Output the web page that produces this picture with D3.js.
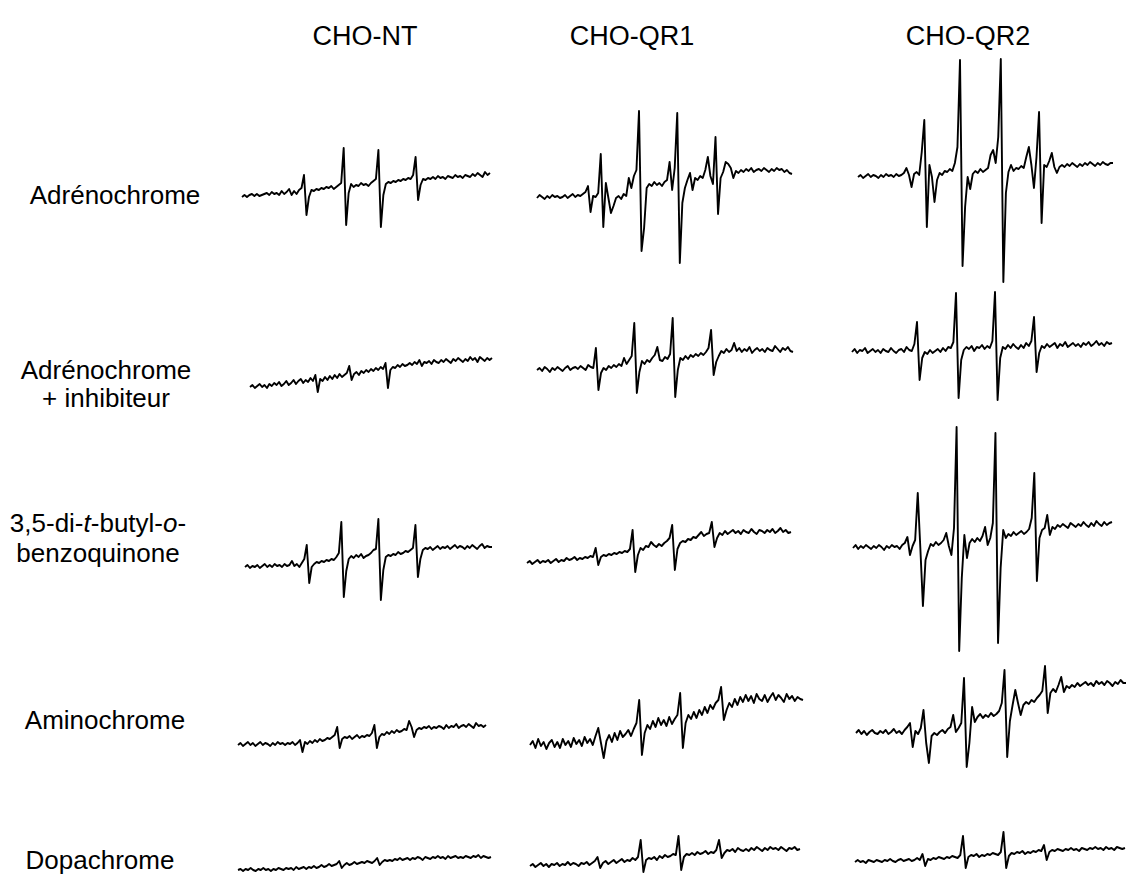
<!DOCTYPE html>
<html>
<head>
<meta charset="utf-8">
<script src="https://cdn.jsdelivr.net/npm/d3@7"></script>
<style>
  html, body { margin: 0; padding: 0; background: #fff; }
  svg { display: block; }
  text { font-family: "Liberation Sans", Arial, sans-serif; fill: #000; }
</style>
</head>
<body>
<svg id="chart" width="1129" height="890"></svg>
<script>
// Cell lines (columns) and substrates (rows)
const columns = ["CHO-NT", "CHO-QR1", "CHO-QR2"];
const rowLabels = [
  ["Adrénochrome"],
  ["Adrénochrome", "+ inhibiteur"],
  ["3,5-di-<i>t</i>-butyl-<i>o</i>-", "benzoquinone"],
  ["Aminochrome"],
  ["Dopachrome"]
];

// EPR signal amplitude (a.u.) sampled at 101 equally spaced field points per spectrum
const adrNT = [
  0, 2, 0, 2, 3, 1, 3, 1, 2, 3,
  4, 2, 5, 3, 4, 2, 6, 3, 5, 8,
  2, 6, 3, 7, 9, 22, -18, 0, 7, 6,
  8, 7, 9, 8, 10, 9, 11, 8, 10, 12,
  14, 49, -28, 4, 13, 10, 12, 11, 14, 12,
  13, 11, 14, 16, 18, 47, -30, 2, 13, 15,
  14, 16, 15, 17, 16, 18, 17, 19, 18, 22,
  40, -3, 12, 18, 17, 19, 18, 20, 18, 21,
  19, 20, 18, 21, 20, 19, 22, 20, 21, 19,
  22, 21, 20, 23, 21, 24, 22, 20, 25, 22,
  24
];
const adrQR1 = [
  0, 3, 1, -1, 2, 0, 3, 1, 2, 0,
  1, 3, 0, 2, 4, 1, 3, 2, 4, 6,
  12, -14, 2, 1, 5, 44, -29, 15, 0, -15,
  -8, 0, 2, -1, 4, 2, 20, 10, 22, 28,
  87, -53, -30, 10, 14, 12, 16, 13, 15, 12,
  16, 18, 36, 8, 30, 85, -65, -5, 10, 18,
  25, 8, 20, 18, 22, 20, 28, 41, 22, 14,
  61, -16, 20, 26, 36, 34, 30, 20, 27, 25,
  28, 26, 29, 27, 30, 26, 28, 29, 27, 30,
  28, 26, 29, 27, 30, 28, 29, 26, 28, 25,
  24
];
const adrQR2 = [
  0, 2, -1, 1, 3, 0, 2, 1, -1, 2,
  0, 3, 1, 2, 0, 3, 1, 2, 4, 9,
  2, -10, 3, 5, 2, 25, 57, -50, 12, 0,
  -25, -3, 4, 2, 6, 5, 8, 6, 14, 30,
  117, -89, -30, 0, -12, 3, 6, 4, 8, 5,
  7, 9, 22, 27, 14, 40, 118, -105, -16, 5,
  12, 6, 9, 8, 11, 9, 20, 30, 12, -11,
  20, 65, -46, 12, 10, 16, 24, 10, 4, 10,
  12, 10, 13, 11, 14, 12, 10, 13, 11, 14,
  12, 15, 13, 11, 14, 12, 15, 13, 12, 14,
  14
];

const adrInhNT = [
  0, 2, -1, 1, 3, 0, 2, -1, 3, 1,
  4, 2, 5, 1, 3, 6, 2, 4, 7, 3,
  6, 8, 4, 7, 5, 9, 6, 12, -5, 8,
  6, 10, 7, 11, 8, 12, 9, 13, 10, 12,
  14, 21, 7, 13, 15, 12, 16, 14, 17, 15,
  18, 16, 19, 17, 20, 18, 24, -1, 17, 20,
  19, 22, 20, 23, 21, 22, 24, 22, 25, 23,
  27, 21, 25, 24, 26, 23, 27, 25, 24, 27,
  25, 28, 26, 24, 28, 26, 29, 27, 25, 28,
  26, 30, 27, 29, 25, 30, 28, 26, 29, 27,
  29
];
const adrInhQR1 = [
  0, 2, -1, 3, 1, -2, 2, 0, 3, 1,
  -1, 2, 4, 0, 2, 3, 1, 4, 2, 0,
  5, 3, 2, 22, -20, -3, 2, 0, 4, 2,
  5, 3, 6, 4, 12, 6, 10, 14, 47, -23,
  -2, 9, 6, 10, 8, 12, 15, 23, 10, 9,
  13, 11, 16, 52, -27, 0, 12, 10, 14, 11,
  15, 13, 16, 14, 17, 15, 18, 22, 40, -5,
  8, 14, 19, 17, 21, 18, 20, 27, 19, 22,
  18, 21, 19, 23, 17, 20, 22, 19, 21, 18,
  22, 20, 19, 24, 21, 18, 22, 20, 23, 19,
  18
];
const adrInhQR2 = [
  -2, 1, -3, 0, -1, 2, -3, -1, 1, -2,
  0, -3, 1, -1, -2, 2, -1, -3, 0, 1,
  -2, 3, 0, -1, 6, 28, -30, -8, -2, -4,
  0, -3, -1, 1, -2, 2, -1, 3, 2, 8,
  57, -48, -10, 0, 3, 1, 4, -1, 3, 2,
  5, 1, 4, 2, 9, 58, -50, -8, 3, 1,
  5, 2, 6, 3, 1, 5, 2, 7, 4, 9,
  33, -22, -3, 4, 2, 6, 3, 5, 7, 2,
  6, 4, 8, 3, 5, 7, 4, 6, 3, 7,
  5, 8, 4, 6, 9, 5, 7, 4, 8, 6,
  7
];

const dtbqNT = [
  0, 2, -1, 1, 0, 2, -1, 1, 3, 0,
  2, 0, 3, 1, 2, 0, 3, 1, 2, 6,
  1, 3, 0, 4, 8, 22, -16, 0, 3, 5,
  4, 6, 5, 7, 6, 8, 7, 10, 14, 45,
  -30, -4, 8, 11, 9, 12, 10, 13, 9, 11,
  12, 14, 17, 18, 48, -33, -3, 10, 12, 11,
  13, 12, 15, 13, 14, 16, 15, 17, 19, 42,
  -10, 8, 17, 19, 18, 20, 17, 19, 21, 18,
  20, 19, 21, 18, 20, 22, 19, 21, 20, 18,
  21, 19, 22, 20, 18, 21, 23, 19, 21, 20,
  20
];
const dtbqQR1 = [
  0, 2, -1, 1, 3, 0, 2, 1, 3, 0,
  2, 4, 1, 3, 2, 5, 3, 4, 6, 3,
  5, 4, 6, 5, 7, 6, 15, -2, 6, 8,
  7, 9, 8, 10, 9, 11, 10, 12, 11, 14,
  33, -9, 8, 15, 13, 17, 16, 21, 18, 16,
  19, 17, 20, 22, 25, 38, -7, 14, 20, 22,
  21, 24, 23, 26, 25, 28, 31, 27, 29, 30,
  41, 16, 25, 30, 28, 32, 29, 31, 33, 30,
  32, 29, 33, 31, 30, 34, 31, 29, 33, 32,
  30, 33, 31, 34, 30, 32, 35, 31, 33, 30,
  31
];
const dtbqQR2 = [
  0, 3, -1, 2, 0, 3, 1, -1, 2, 0,
  3, 1, -2, 2, 0, 3, 1, 2, -1, 3,
  5, 11, -7, 2, 8, 55, 0, -58, -12, -3,
  4, 2, 6, 3, 5, 8, 15, 2, -7, 20,
  121, -103, -30, 13, -10, 5, 9, 6, 10, 7,
  12, 21, 3, 10, 25, 115, -95, -20, 18, 10,
  14, 12, 16, 13, 15, 17, 14, 16, 19, 30,
  75, -33, 10, 18, 20, 33, 13, 21, 19, 23,
  21, 24, 22, 20, 25, 23, 21, 24, 22, 26,
  23, 21, 25, 22, 27, 24, 22, 26, 23, 25,
  26
];

const aminoNT = [
  0, 2, -1, 1, 3, 0, 2, -1, 1, 3,
  0, 2, 1, -1, 2, 0, 3, 1, 2, 0,
  2, 1, 3, 0, 2, 5, -7, 3, 1, 4,
  2, 5, 3, 6, 4, 5, 7, 6, 8, 10,
  18, -3, 6, 8, 7, 9, 6, 8, 10, 7,
  9, 8, 10, 9, 12, 20, -3, 8, 11, 10,
  13, 11, 14, 12, 15, 13, 14, 16, 15, 24,
  18, 8, 15, 17, 16, 18, 17, 19, 16, 18,
  17, 19, 18, 16, 20, 17, 19, 18, 21, 17,
  19, 20, 18, 21, 19, 17, 22, 19, 20, 18,
  20
];
const aminoQR1 = [
  0, 4, -3, 6, -1, 3, -4, 2, 5, -2,
  3, -3, 6, 0, 4, -2, 7, 1, 5, -1,
  8, 2, 6, 0, 9, 17, 2, -13, 4, 10,
  3, 12, 5, 14, 8, 11, 15, 9, 16, 22,
  45, -10, 12, 20, 16, 24, 18, 27, 20, 25,
  19, 28, 21, 26, 30, 52, -3, 22, 30, 26,
  33, 27, 35, 30, 38, 32, 40, 36, 42, 45,
  58, 25, 35, 42, 38, 46, 40, 48, 43, 50,
  44, 49, 42, 51, 46, 44, 50, 43, 48, 52,
  45, 50, 47, 43, 51, 46, 49, 44, 48, 46,
  45
];
const aminoQR2 = [
  0, 3, -1, 2, -2, 1, 3, 0, -1, 2,
  0, 3, -1, 1, 4, 0, 2, -1, 3, 6,
  10, -14, 2, -1, 5, 23, -10, -30, -3, 0,
  -2, 1, 3, 0, 4, 6, 18, 1, 5, 10,
  55, -34, -10, 26, 11, 16, 19, 15, 18, 16,
  20, 17, 19, 22, 30, 63, -24, 12, 28, 43,
  30, 18, 28, 31, 29, 33, 31, 35, 38, 42,
  67, 20, 40, 44, 41, 48, 56, 41, 47, 45,
  48, 46, 50, 47, 49, 51, 48, 50, 47, 52,
  49, 51, 48, 52, 50, 47, 51, 49, 53, 50,
  50
];

const dopaNT = [
  0, 1, -1, 1, 0, 2, 0, -1, 1, 0,
  2, 0, 1, -1, 1, 0, 2, 1, 0, 2,
  1, 2, 0, 3, 1, 2, 3, 1, 3, 2,
  4, 2, 3, 5, 3, 4, 6, 4, 5, 6,
  9, 2, 5, 7, 5, 6, 8, 6, 7, 8,
  7, 9, 8, 7, 9, 12, 5, 8, 10, 9,
  10, 9, 11, 10, 12, 10, 11, 12, 10, 12,
  11, 13, 12, 10, 13, 12, 11, 13, 12, 14,
  12, 13, 11, 14, 12, 13, 14, 12, 13, 12,
  14, 13, 12, 14, 13, 15, 12, 14, 13, 12,
  13
];
const dopaQR1 = [
  0, 2, -1, 1, 3, 0, 2, -1, 2, 1,
  3, 0, 2, 1, 4, 1, 3, 2, 0, 3,
  2, 4, 1, 3, 5, 9, -2, 3, 5, 2,
  4, 6, 3, 5, 7, 4, 6, 5, 8, 6,
  9, 26, -6, 6, 8, 7, 9, 6, 10, 8,
  11, 9, 10, 12, 11, 30, -4, 9, 12, 11,
  13, 11, 14, 12, 13, 15, 12, 14, 13, 16,
  26, 8, 13, 16, 15, 17, 14, 18, 16, 15,
  17, 15, 18, 16, 19, 17, 15, 18, 16, 19,
  17, 18, 16, 19, 17, 15, 18, 17, 19, 16,
  17
];
const dopaQR2 = [
  0, 2, 0, 1, -1, 2, 1, 0, 2, 1,
  0, 2, 1, 3, 1, 0, 2, 3, 1, 2,
  3, 1, 2, 4, 2, 8, -4, 3, 2, 4,
  3, 5, 4, 3, 5, 4, 6, 5, 4, 7,
  26, -6, 5, 7, 6, 8, 5, 7, 6, 8,
  7, 9, 8, 7, 10, 30, -6, 6, 9, 8,
  10, 9, 11, 8, 10, 9, 11, 10, 12, 11,
  17, 2, 10, 12, 11, 13, 12, 11, 13, 12,
  14, 12, 13, 11, 14, 13, 12, 14, 13, 15,
  13, 14, 12, 15, 13, 14, 12, 15, 14, 13,
  14
];

const spectra = [
  [adrNT, adrQR1, adrQR2],
  [adrInhNT, adrInhQR1, adrInhQR2],
  [dtbqNT, dtbqQR1, dtbqQR2],
  [aminoNT, aminoQR1, aminoQR2],
  [dopaNT, dopaQR1, dopaQR2]
];

// ---- layout (pixels) ----
const colTitleX = [365, 632, 968];
const colTitleY = 45;
// horizontal extent of each trace, [row][col] -> [left, right]
const traceX = [
  [[242, 490], [537, 792], [858, 1113]],
  [[250, 492], [537, 793], [852, 1112]],
  [[245, 492], [527, 791], [853, 1112]],
  [[238, 486], [530, 803], [856, 1126]],
  [[238, 491], [530, 800], [855, 1125]]
];
// zero-signal level at the left end of each trace, [row][col]
const traceY0 = [
  [197, 198, 177],
  [387, 370, 350],
  [567, 563, 548],
  [745, 745, 733],
  [870, 866, 862]
];
const labelX = [115, 106, 98, 105, 100];
const labelY = [[204], [379, 407], [532, 562], [729], [869]];

const svg = d3.select("#chart");

// column titles
svg.selectAll("text.col")
  .data(columns)
  .join("text")
  .attr("class", "col")
  .attr("x", (d, i) => colTitleX[i])
  .attr("y", colTitleY)
  .attr("text-anchor", "middle")
  .attr("font-size", 27)
  .text(d => d);

// row labels (segments wrapped in <i> are set in italics)
rowLabels.forEach((lines, r) => {
  lines.forEach((line, k) => {
    const t = svg.append("text")
      .attr("x", labelX[r])
      .attr("y", labelY[r][k])
      .attr("text-anchor", "middle")
      .attr("font-size", 26);
    line.split(/(<i>.*?<\/i>)/).filter(s => s.length).forEach(seg => {
      const it = seg.startsWith("<i>");
      t.append("tspan")
        .attr("font-style", it ? "italic" : "normal")
        .text(it ? seg.slice(3, -4) : seg);
    });
  });
});

// spectra
const y = d3.scaleLinear().domain([-150, 150]).range([150, -150]);
spectra.forEach((row, r) => {
  row.forEach((vals, c) => {
    const x = d3.scaleLinear()
      .domain([0, vals.length - 1])
      .range(traceX[r][c]);
    const line = d3.line()
      .x((d, i) => x(i))
      .y(d => y(d));
    svg.append("g")
      .attr("transform", `translate(0,${traceY0[r][c]})`)
      .append("path")
      .datum(vals)
      .attr("d", line)
      .attr("fill", "none")
      .attr("stroke", "#000")
      .attr("stroke-width", 1.9)
      .attr("stroke-linejoin", "round");
  });
});
</script>
</body>
</html>
